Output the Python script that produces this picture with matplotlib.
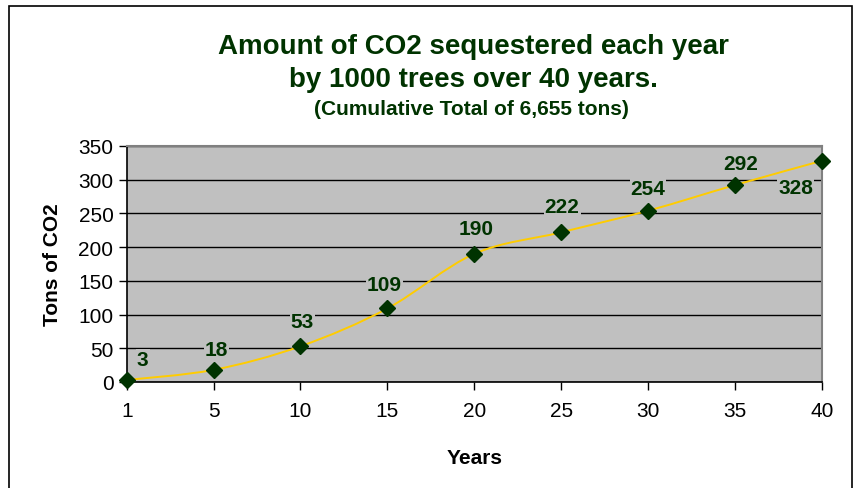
import numpy as np
import matplotlib.pyplot as plt
from matplotlib.path import Path
from matplotlib.patches import PathPatch, Rectangle

plt.rcParams['font.family'] = ['Liberation Sans', 'DejaVu Sans']

years = ['1', '5', '10', '15', '20', '25', '30', '35', '40']
tons = [3, 18, 53, 109, 190, 222, 254, 292, 328]

green = '#003300'
line_col = '#ffcc00'

fig = plt.figure(figsize=(8.56, 4.89), dpi=100)
ax = fig.add_axes([0.148, 0.2168, 0.812, 0.4826])
ax.set_facecolor('#c0c0c0')

x = np.arange(len(years))
y = np.array(tons, dtype=float)

# smoothed line like excel (catmull-rom -> bezier)
verts = [(x[0], y[0])]
codes = [Path.MOVETO]
n = len(x)
for i in range(n - 1):
    p0 = (x[max(i - 1, 0)], y[max(i - 1, 0)])
    p1 = (x[i], y[i])
    p2 = (x[i + 1], y[i + 1])
    p3 = (x[min(i + 2, n - 1)], y[min(i + 2, n - 1)])
    c1 = (p1[0] + (p2[0] - p0[0]) / 6, p1[1] + (p2[1] - p0[1]) / 6)
    c2 = (p2[0] - (p3[0] - p1[0]) / 6, p2[1] - (p3[1] - p1[1]) / 6)
    verts += [c1, c2, p2]
    codes += [Path.CURVE4] * 3
ax.add_patch(PathPatch(Path(verts, codes), fill=False, edgecolor=line_col, lw=1.4, zorder=3))
ax.plot(x, y, linestyle='none', marker='D', markersize=8, color=green, zorder=4, clip_on=False)

# label offsets in pixels (dx, dy)
offsets = [(16, 20), (3, 20), (2, 25), (-3, 24), (2, 25), (1, 26), (0, 22), (6, 22), (-26, -27)]
for xi, yi, (dx, dy) in zip(x, y, offsets):
    ax.annotate(str(int(yi)), (xi, yi), xytext=(dx * 0.72, dy * 0.72), textcoords='offset points',
                ha='center', va='center', fontsize=15, fontweight='bold', color=green, zorder=5,
                bbox=dict(boxstyle='square,pad=0.05', fc='#c0c0c0', ec='none'))

ax.set_xlim(0, n - 1)
ax.set_ylim(0, 350)
ax.set_xticks(x)
ax.set_xticklabels(years)
ax.set_yticks(np.arange(0, 351, 50))
ax.yaxis.grid(True, color='black', lw=1)
ax.set_axisbelow(True)
ax.tick_params(labelsize=15, length=5.5, width=1, direction='out', pad=4)
ax.tick_params(axis='x', pad=8)

for s in ['top', 'right']:
    ax.spines[s].set_color('#808080')
    ax.spines[s].set_linewidth(1.5)
for s in ['left', 'bottom']:
    ax.spines[s].set_color('black')
    ax.spines[s].set_linewidth(1.2)

ax.set_xlabel('Years', fontsize=15, fontweight='bold', labelpad=20)
ax.set_ylabel('Tons of CO2', fontsize=15, fontweight='bold', labelpad=12)

fig.text(0.553, 1 - 47 / 489, 'Amount of CO2 sequestered each year', ha='center', va='center',
         fontsize=20, fontweight='bold', color=green)
fig.text(0.553, 1 - 80 / 489, 'by 1000 trees over 40 years.', ha='center', va='center',
         fontsize=20, fontweight='bold', color=green)
fig.text(0.551, 1 - 110 / 489, '(Cumulative Total of 6,655 tons)', ha='center', va='center',
         fontsize=15, fontweight='bold', color=green)

fig.add_artist(Rectangle((9 / 856, -0.1), (852 - 9) / 856, 1.1 - 7 / 489,
                         transform=fig.transFigure, fill=False, ec='black', lw=1.2))

fig.savefig('out.png', dpi=100)
